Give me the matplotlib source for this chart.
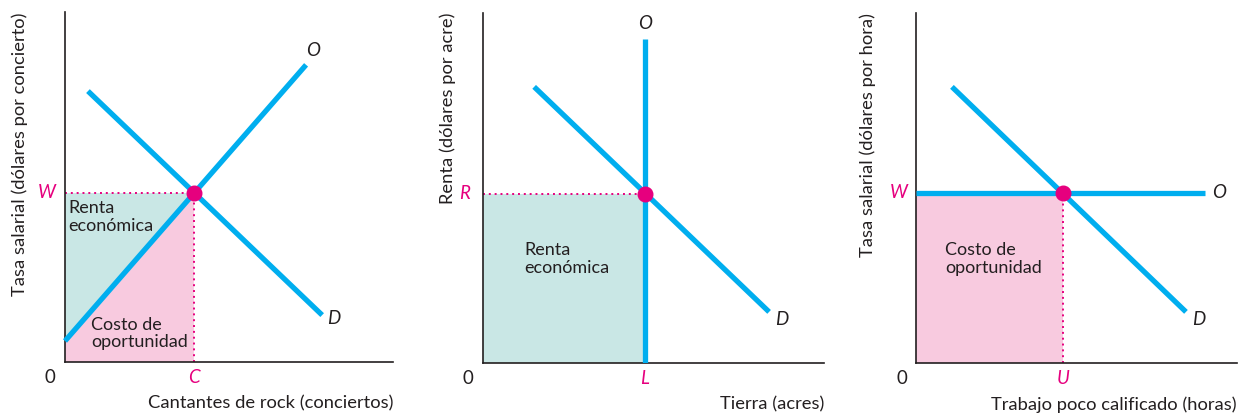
import matplotlib
matplotlib.use("Agg")
import matplotlib.pyplot as plt
import numpy as np

plt.rcParams['font.family'] = ['Lato', 'DejaVu Sans']

BLUE = '#00AEEF'
TEAL = '#C9E7E5'
PINK = '#F8CADF'
MAG = '#E6007E'
TXT = '#231F20'

# ---- data (axis units 0-10) ----
# Panel 1: rock singers
p1_demand_x = [0.70, 7.84]
p1_demand_y = [7.74, 1.34]
p1_supply_x = [0.0, 7.35]
p1_supply_y = [0.60, 8.49]
p1_eq = (3.93, 4.83)

# Panel 2: land
p2_demand_x = [1.50, 8.39]
p2_demand_y = [7.89, 1.46]
p2_supply_x = [4.75, 4.75]
p2_supply_y = [0.0, 9.26]
p2_eq = (4.75, 4.83)

# Panel 3: unskilled labour
p3_demand_x = [1.12, 8.41]
p3_demand_y = [7.89, 1.46]
p3_supply_x = [0.0, 9.0]
p3_supply_y = [4.86, 4.86]
p3_eq = (4.58, 4.86)

fig = plt.figure(figsize=(12.45, 4.15), dpi=100)
W, H = 1245, 415

def make_ax(left, right, top=12, bottom=362):
    ax = fig.add_axes([left / W, (H - bottom) / H, (right - left) / W, (bottom - top) / H])
    ax.set_xlim(0, 10)
    ax.set_ylim(0, 10)
    for s in ['top', 'right']:
        ax.spines[s].set_visible(False)
    for s in ['left', 'bottom']:
        ax.spines[s].set_linewidth(1.2)
        ax.spines[s].set_color(TXT)
    ax.set_xticks([])
    ax.set_yticks([])
    ax.patch.set_alpha(0)
    return ax

lw = 3.8
dot_ms = 10.5
fs_lab = 13.2
fs_let = 13.5
fs_area = 13.0

def tick_labels(ax, xlet, ylet, eq):
    ax.text(-0.45, -0.45, '0', ha='center', va='center', fontsize=fs_let, color=TXT)
    if xlet:
        ax.text(eq[0], -0.45, xlet, ha='center', va='center', fontsize=fs_let, color=MAG, style='italic')
    if ylet:
        ax.text(-0.55, eq[1], ylet, ha='center', va='center', fontsize=fs_let, color=MAG, style='italic')

dots = (0, (1, 2.0))

# ---------- Panel 1 ----------
ax1 = make_ax(65, 393)
ax1.fill([0, 0, p1_eq[0]], [p1_supply_y[0], p1_eq[1], p1_eq[1]], color=TEAL, lw=0, zorder=1)
ax1.fill([0, 0, p1_eq[0], p1_eq[0]], [0, p1_supply_y[0], p1_eq[1], 0], color=PINK, lw=0, zorder=1)
ax1.plot([0, p1_eq[0]], [p1_eq[1], p1_eq[1]], ls=dots, color=MAG, lw=1.4, zorder=2)
ax1.plot([p1_eq[0], p1_eq[0]], [0, p1_eq[1]], ls=dots, color=MAG, lw=1.4, zorder=2)
ax1.plot(p1_demand_x, p1_demand_y, color=BLUE, lw=lw, solid_capstyle='butt', zorder=3)
ax1.plot(p1_supply_x, p1_supply_y, color=BLUE, lw=lw, solid_capstyle='butt', zorder=3, clip_on=False)
ax1.plot(*p1_eq, 'o', color=MAG, ms=dot_ms, zorder=4)
ax1.text(7.55, 8.9, 'O', fontsize=fs_let, style='italic', color=TXT, ha='center', va='center')
ax1.text(8.2, 1.25, 'D', fontsize=fs_let, style='italic', color=TXT, ha='center', va='center')
ax1.text(0.1, 4.62, 'Renta\neconómica', fontsize=fs_area, color=TXT, ha='left', va='top', linespacing=1.1)
ax1.text(0.8, 1.3, 'Costo de\noportunidad', fontsize=fs_area, color=TXT, ha='left', va='top', linespacing=1.1)
tick_labels(ax1, 'C', 'W', p1_eq)
ax1.text(10, -1.18, 'Cantantes de rock (conciertos)', fontsize=fs_lab, color=TXT, ha='right', va='center')
ax1.text(-1.38, 10.0, 'Tasa salarial (dólares por concierto)', fontsize=fs_lab, color=TXT,
         rotation=90, ha='center', va='top')

# ---------- Panel 2 ----------
ax2 = make_ax(483, 824, top=13, bottom=363)
ax2.fill([0, 0, p2_eq[0], p2_eq[0]], [0, p2_eq[1], p2_eq[1], 0], color=TEAL, lw=0, zorder=1)
ax2.plot([0, p2_eq[0]], [p2_eq[1], p2_eq[1]], ls=dots, color=MAG, lw=1.4, zorder=2)
ax2.plot(p2_demand_x, p2_demand_y, color=BLUE, lw=lw, solid_capstyle='butt', zorder=3)
ax2.plot(p2_supply_x, p2_supply_y, color=BLUE, lw=lw, solid_capstyle='butt', zorder=3)
ax2.plot(*p2_eq, 'o', color=MAG, ms=dot_ms, zorder=4)
ax2.text(4.75, 9.7, 'O', fontsize=fs_let, style='italic', color=TXT, ha='center', va='center')
ax2.text(8.75, 1.25, 'D', fontsize=fs_let, style='italic', color=TXT, ha='center', va='center')
ax2.text(1.2, 3.45, 'Renta\neconómica', fontsize=fs_area, color=TXT, ha='left', va='top', linespacing=1.1)
tick_labels(ax2, 'L', 'R', p2_eq)
ax2.text(10, -1.18, 'Tierra (acres)', fontsize=fs_lab, color=TXT, ha='right', va='center')
ax2.text(-1.03, 10.0, 'Renta (dólares por acre)', fontsize=fs_lab, color=TXT,
         rotation=90, ha='center', va='top')

# ---------- Panel 3 ----------
ax3 = make_ax(916, 1237, top=13, bottom=363)
ax3.fill([0, 0, p3_eq[0], p3_eq[0]], [0, p3_eq[1], p3_eq[1], 0], color=PINK, lw=0, zorder=1)
ax3.plot([p3_eq[0], p3_eq[0]], [0, p3_eq[1]], ls=dots, color=MAG, lw=1.4, zorder=2)
ax3.plot(p3_demand_x, p3_demand_y, color=BLUE, lw=lw, solid_capstyle='butt', zorder=3)
ax3.plot(p3_supply_x, p3_supply_y, color=BLUE, lw=lw, solid_capstyle='butt', zorder=3)
ax3.plot(*p3_eq, 'o', color=MAG, ms=dot_ms, zorder=4)
ax3.text(9.45, 4.86, 'O', fontsize=fs_let, style='italic', color=TXT, ha='center', va='center')
ax3.text(8.8, 1.25, 'D', fontsize=fs_let, style='italic', color=TXT, ha='center', va='center')
ax3.text(0.9, 3.45, 'Costo de\noportunidad', fontsize=fs_area, color=TXT, ha='left', va='top', linespacing=1.1)
tick_labels(ax3, 'U', 'W', p3_eq)
ax3.text(10, -1.18, 'Trabajo poco calificado (horas)', fontsize=fs_lab, color=TXT, ha='right', va='center')
ax3.text(-1.5, 10.0, 'Tasa salarial (dólares por hora)', fontsize=fs_lab, color=TXT,
         rotation=90, ha='center', va='top')

fig.savefig('out.png', dpi=100)
